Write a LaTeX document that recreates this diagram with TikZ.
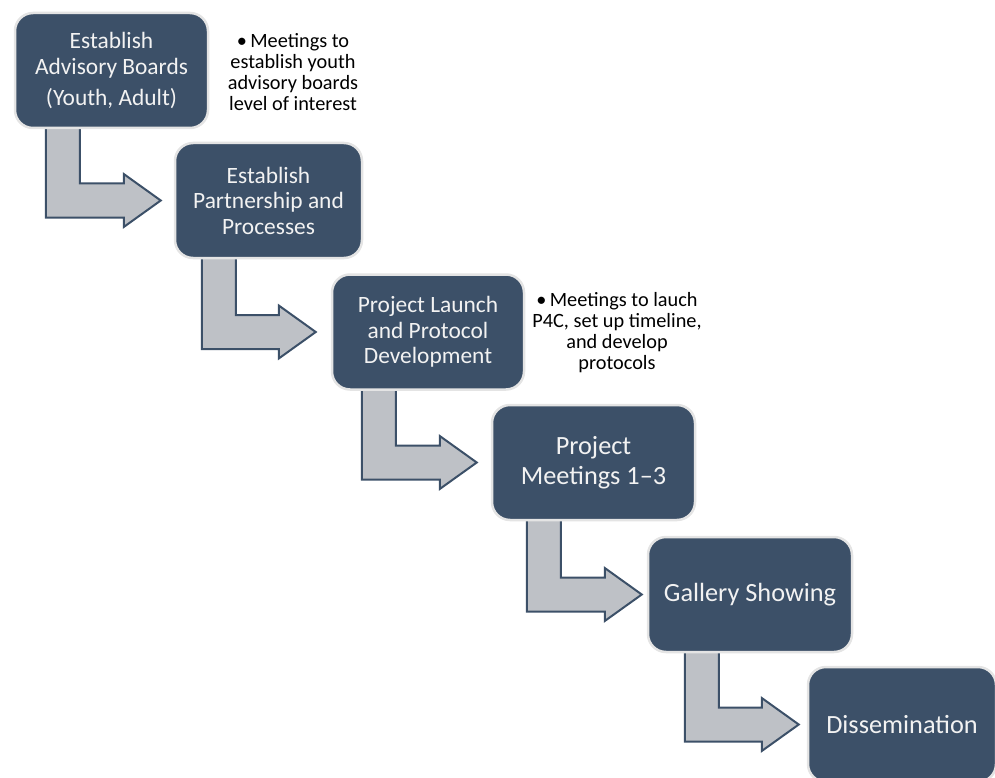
\documentclass[tikz,border=0pt]{standalone}
\usepackage{fontspec}
\setmainfont{Carlito}
\usepackage{tikz}
\usetikzlibrary{calc}
\usetikzlibrary{backgrounds}
\definecolor{boxblue}{HTML}{3C5068}
\definecolor{arrowgray}{HTML}{BEC1C6}
\definecolor{rimgray}{HTML}{E4E4E4}
\tikzset{
  stepbox/.style={draw=rimgray, line width=2.5pt, fill=boxblue, rounded corners=18pt,
    text=white!95!black, align=center, minimum height=115pt, inner sep=4pt,
    font=\fontsize{23.4}{25.5}\selectfont},
  bigstep/.style={stepbox, font=\fontsize{26.3}{30}\selectfont},
  stepconn/.style={draw=boxblue, line width=2pt, fill=arrowgray, line join=miter},
  stepnote/.style={align=center, inner sep=0pt, font=\fontsize{20.3}{21}\selectfont}
}
% #1 from box, #2 to box, #3 shaft offset, #4 gap before the box
\newcommand{\stepArrow}[4]{\draw[stepconn] let \p1=(#1.south west), \p2=(#2.west) in
  (\x1+#3pt,\y1+3pt) -- (\x1+#3pt+34pt,\y1+3pt) -- (\x1+#3pt+34pt,\y2+17pt)
  -- (\x2-#4pt-37pt,\y2+17pt) -- (\x2-#4pt-37pt,\y2+26.5pt) -- (\x2-#4pt,\y2)
  -- (\x2-#4pt-37pt,\y2-26.5pt) -- (\x2-#4pt-37pt,\y2-17pt) -- (\x1+#3pt,\y2-17pt) -- cycle;}

\begin{document}
\begin{tikzpicture}[x=1pt, y=-1pt]
    \useasboundingbox (0,0) rectangle (995,778);

    \node[stepbox, minimum width=193pt] (advisory) at (111.5,70.5) {Establish\\Advisory Boards\\[5.5pt](Youth, Adult)};
    \node[stepbox, minimum width=187pt] (partner) at (268.5,200.5) {Establish\\Partnership and\\Processes};
    \node[stepbox, minimum width=192pt] (launch) at (428,332) {Project Launch\\and Protocol\\Development};
    \node[bigstep, minimum width=203pt] (meetings) at (593.5,462.5) {Project\\Meetings 1--3};
    \node[bigstep, minimum width=204pt] (gallery) at (750,594.5) {Gallery Showing};
    \node[bigstep, minimum width=188pt] (dissem) at (902,724.5) {Dissemination};

    \node[stepnote] (advnote) at (293,72) {\textbullet\,Meetings to\\establish youth\\advisory boards\\level of interest};
    \node[stepnote] (launchnote) at (617,332.5) {\textbullet\,Meetings to lauch\\P4C, set up timeline,\\and develop\\protocols};

    \begin{pgfonlayer}{background}
        \stepArrow{advisory}{partner}{32}{13}
        \stepArrow{partner}{launch}{28}{15}
        \stepArrow{launch}{meetings}{31}{14}
        \stepArrow{meetings}{gallery}{36}{5}
        \stepArrow{gallery}{dissem}{38}{8}
    \end{pgfonlayer}
\end{tikzpicture}
\end{document}
